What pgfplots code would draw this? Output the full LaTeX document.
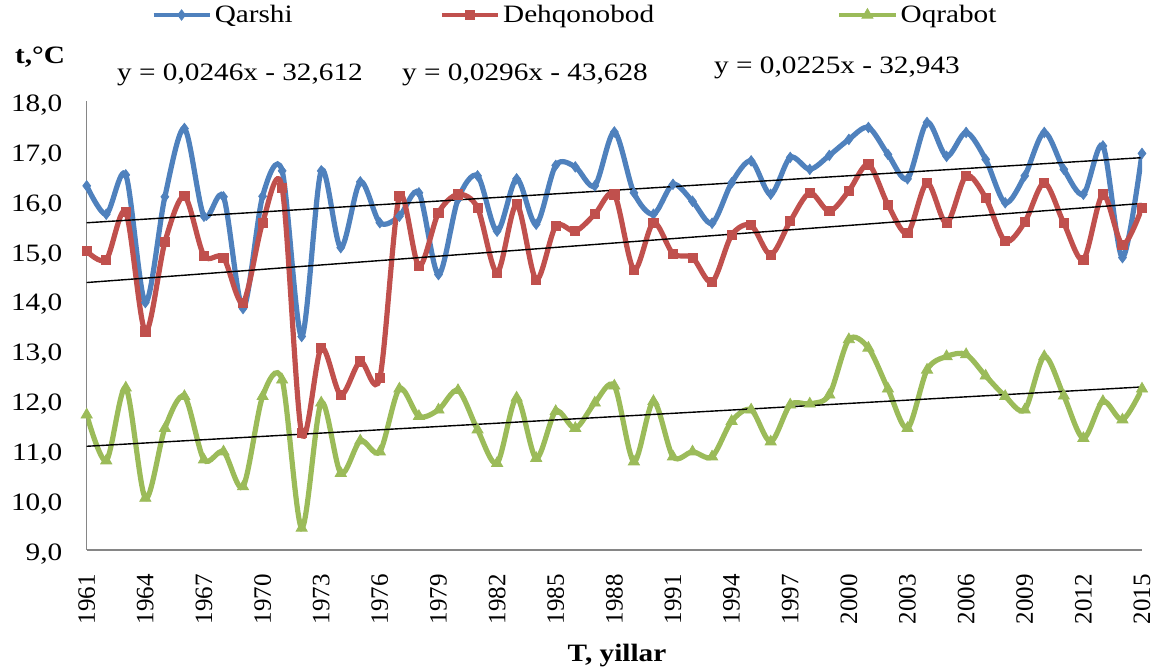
\documentclass[border=0pt]{standalone}
\usepackage{fontspec}
\setmainfont{Liberation Serif}[FakeStretch=1.17]
\newfontfamily\plainserif{Liberation Serif}
\usepackage{pgfplots}
\usepackage{pgfplotstable}
\pgfplotsset{compat=1.18}
\definecolor{cQ}{HTML}{4F81BD}
\definecolor{cD}{HTML}{C0504D}
\definecolor{cO}{HTML}{9BBB59}
\definecolor{axgray}{HTML}{868686}
\pgfplotstableread{
year Q D O
1961 16.30 14.99 11.71
1962 15.73 14.82 10.79
1963 16.52 15.77 12.25
1964 13.96 13.38 10.04
1965 16.08 15.17 11.44
1966 17.45 16.09 12.08
1967 15.69 14.90 10.81
1968 16.08 14.86 10.97
1969 13.84 13.96 10.27
1970 16.09 15.56 12.08
1971 16.60 16.26 12.41
1972 13.28 11.34 9.44
1973 16.60 13.05 11.95
1974 15.06 12.11 10.54
1975 16.38 12.78 11.19
1976 15.56 12.45 10.97
1977 15.69 16.09 12.23
1978 16.16 14.69 11.68
1979 14.52 15.76 11.81
1980 16.03 16.13 12.20
1981 16.50 15.86 11.41
1982 15.39 14.56 10.74
1983 16.44 15.93 12.05
1984 15.53 14.42 10.84
1985 16.71 15.49 11.78
1986 16.68 15.39 11.44
1987 16.30 15.73 11.95
1988 17.38 16.13 12.29
1989 16.16 14.62 10.77
1990 15.73 15.56 11.98
1991 16.33 14.94 10.87
1992 15.99 14.86 10.97
1993 15.55 14.37 10.87
1994 16.36 15.31 11.58
1995 16.80 15.51 11.81
1996 16.13 14.92 11.17
1997 16.87 15.59 11.91
1998 16.63 16.16 11.93
1999 16.91 15.79 12.11
2000 17.23 16.20 13.22
2001 17.47 16.73 13.05
2002 16.93 15.92 12.23
2003 16.44 15.35 11.44
2004 17.57 16.36 12.61
2005 16.89 15.55 12.88
2006 17.37 16.50 12.92
2007 16.83 16.06 12.49
2008 15.96 15.19 12.08
2009 16.50 15.57 11.81
2010 17.37 16.36 12.88
2011 16.63 15.55 12.09
2012 16.13 14.82 11.24
2013 17.10 16.13 11.98
2014 14.86 15.12 11.61
2015 16.95 15.86 12.23
}\data
\begin{document}
\begin{tikzpicture}
\path[use as bounding box] (0,0) rectangle (576.5pt,335pt);
\begin{axis}[
  at={(43.35pt,60pt)}, anchor=south west,
  scale only axis, width=527.65pt, height=224.5pt,
  xmin=1961, xmax=2015, ymin=9, ymax=18,
  axis lines*=left,
  axis line style={axgray, line width=0.75pt},
  tick style={draw=none},
  xtick={1961,1964,...,2015},
  ytick={9,10,...,18},
  font=\fontsize{12.5pt}{15pt}\selectfont,
  xticklabel style={font=\plainserif\fontsize{12.5pt}{15pt}\selectfont,
    /pgf/number format/1000 sep={}, /pgf/number format/assume math mode=true,
    inner sep=0pt, yshift=-12pt, rotate=90, anchor=east},
  yticklabel style={/pgf/number format/.cd, fixed, fixed zerofill, precision=1, use comma, assume math mode=true, /tikz/.cd,
    inner sep=0pt, xshift=-12pt, yshift=-2pt, anchor=east},
  xlabel={\textbf{T, yillar}},
  xlabel style={at={(axis description cs:0.5025,-0.236)}, anchor=center},
  ylabel={\textbf{t,°C}},
  ylabel style={rotate=-90, at={(axis description cs:-0.0443,1.098)}, anchor=center},
  legend columns=3,
  legend style={at={(axis description cs:0.0609,1.1915)}, anchor=west, draw=none, fill=none,
    inner sep=0pt, column sep=0pt, nodes={inner xsep=1.5pt, inner ysep=0pt, anchor=west}},
  legend image code/.code={\draw[#1, line width=2.2pt, mark repeat=2, mark phase=2] plot coordinates {(0pt,0pt) (14pt,0pt) (28pt,0pt)};},
]
\addplot[cQ, line width=2.6pt, smooth, mark=diamond*, mark size=2.6pt, mark options={solid, line width=0.4pt, fill=cQ}] table[x=year, y=Q] {\data};
\addlegendentry{Qarshi\hspace*{72pt}}
\addplot[cD, line width=2.6pt, smooth, mark=square*, mark size=2.3pt, mark options={solid, line width=0.4pt, fill=cD}] table[x=year, y=D] {\data};
\addlegendentry{Dehqonobod\hspace*{90pt}}
\addplot[cO, line width=2.6pt, smooth, mark=triangle*, mark size=3.2pt, mark options={solid, line width=0.4pt, fill=cO}] table[x=year, y=O] {\data};
\addlegendentry{Oqrabot}
\addplot[black, line width=0.7pt, forget plot] table[x=year, y={create col/linear regression={y=Q}}] {\data};
\addplot[black, line width=0.7pt, forget plot] table[x=year, y={create col/linear regression={y=D}}] {\data};
\addplot[black, line width=0.7pt, forget plot] table[x=year, y={create col/linear regression={y=O}}] {\data};
\end{axis}
\begin{scope}[every node/.style={font=\fontsize{12.5pt}{15pt}\selectfont, inner sep=0pt}]
\node at (120pt,297.5pt) {y = 0,0246x - 32,612};
\node at (262.5pt,297.5pt) {y = 0,0296x - 43,628};
\node at (418.5pt,301pt) {y = 0,0225x - 32,943};
\end{scope}
\end{tikzpicture}
\end{document}
